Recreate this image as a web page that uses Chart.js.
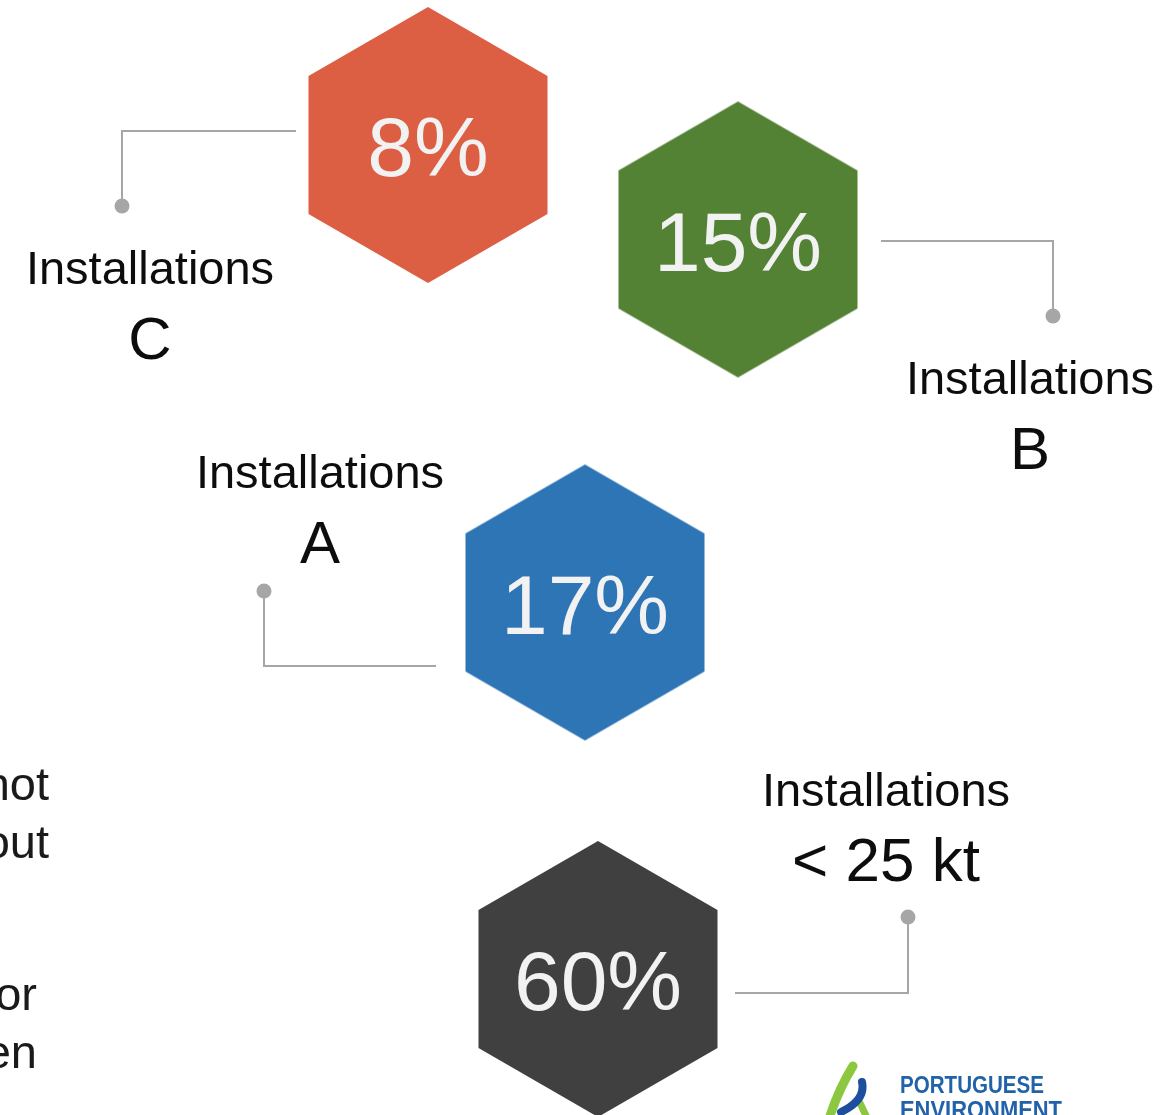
<!DOCTYPE html>
<html>
<head>
<meta charset="utf-8">
<script src="https://cdn.jsdelivr.net/npm/chart.js@4.4.0/dist/chart.umd.min.js"></script>
<style>
  html, body { margin: 0; padding: 0; background: #fff; overflow: hidden; }
  #wrap { width: 1163px; height: 1115px; position: relative; }
</style>
</head>
<body>
<div id="wrap"><canvas id="hexChart" width="1163" height="1115"></canvas></div>
<script>
// --- data ---
const groupTitle = 'Installations';
const groups = ['C', 'B', 'A', '< 25 kt'];
const shares = [8, 15, 17, 60];

// --- styles ---
const hexColors = ['#DD5F43', '#548235', '#2E75B6', '#404040'];
const lineColor = '#A6A6A6';
const groupFont = [60, 60, 60, 62];

// --- layout (page pixels, mapped through the scales) ---
const hexX = [428, 738, 585, 598];
const hexY = [145, 239.5, 602.5, 979];
const lineY = [131, 241, 666, 993];
const lineFromX = [296, 881, 436, 735];
const cornerX = [122, 1053, 264, 908];
const dotY = [206, 316, 591, 917];
const labelX = [150, 1030, 320, 886];
const labelY = [284, 394, 488, 806];

// leftover words from the slide, cut at the left edge
const sideWords = ['not', 'out', 'or', 'en'];
const sideX = [49, 49, 37, 37];
const sideY = [800, 858, 1010, 1068];

const FONT = "'Liberation Sans', Arial, sans-serif";

// hexagon images used as point styles
function makeHex(color) {
  const R = 138, w = 240, h = 278;
  const c = document.createElement('canvas');
  c.width = w; c.height = h;
  const g = c.getContext('2d');
  g.fillStyle = color;
  g.beginPath();
  for (let k = 0; k < 6; k++) {
    const a = (-90 + 60 * k) * Math.PI / 180;
    const px = w / 2 + R * Math.cos(a), py = h / 2 + R * Math.sin(a);
    if (k === 0) g.moveTo(px, py); else g.lineTo(px, py);
  }
  g.closePath();
  g.fill();
  return c;
}
const hexImages = hexColors.map(makeHex);

const overlay = {
  id: 'overlay',
  afterDatasetsDraw(chart) {
    const ctx = chart.ctx;
    const xs = chart.scales.x, ys = chart.scales.y;
    const meta = chart.getDatasetMeta(0);
    ctx.save();

    // percentages inside hexagons
    ctx.fillStyle = '#F2F2F2';
    ctx.font = '84px ' + FONT;
    ctx.textAlign = 'center';
    ctx.textBaseline = 'alphabetic';
    meta.data.forEach((pt, i) => {
      ctx.fillText(shares[i] + '%', pt.x, pt.y + 31);
    });

    // connectors
    ctx.strokeStyle = lineColor;
    ctx.fillStyle = lineColor;
    ctx.lineWidth = 2;
    groups.forEach((g, i) => {
      const y1 = ys.getPixelForValue(lineY[i]);
      ctx.beginPath();
      ctx.moveTo(xs.getPixelForValue(lineFromX[i]), y1);
      ctx.lineTo(xs.getPixelForValue(cornerX[i]), y1);
      ctx.lineTo(xs.getPixelForValue(cornerX[i]), ys.getPixelForValue(dotY[i]));
      ctx.stroke();
      ctx.beginPath();
      ctx.arc(xs.getPixelForValue(cornerX[i]), ys.getPixelForValue(dotY[i]), 7.5, 0, Math.PI * 2);
      ctx.fill();
    });

    // labels
    ctx.fillStyle = '#0d0d0d';
    groups.forEach((g, i) => {
      const x = xs.getPixelForValue(labelX[i]);
      const y = ys.getPixelForValue(labelY[i]);
      ctx.font = '47px ' + FONT;
      ctx.fillText(groupTitle, x, y);
      ctx.font = groupFont[i] + 'px ' + FONT;
      ctx.fillText(g, x, y + 75);
    });

    // cut words on the left
    ctx.font = '47px ' + FONT;
    ctx.textAlign = 'right';
    ctx.fillStyle = '#1a1a1a';
    sideWords.forEach((w, i) => {
      ctx.fillText(w, xs.getPixelForValue(sideX[i]), ys.getPixelForValue(sideY[i]));
    });

    // agency logo (bottom right)
    ctx.lineCap = 'round';
    ctx.strokeStyle = '#8DC63F';
    ctx.lineWidth = 9;
    ctx.beginPath();
    ctx.moveTo(853, 1066);
    ctx.quadraticCurveTo(838, 1090, 828, 1122);
    ctx.stroke();
    ctx.lineWidth = 7;
    ctx.beginPath();
    ctx.moveTo(860, 1103);
    ctx.lineTo(869, 1122);
    ctx.stroke();
    ctx.strokeStyle = '#1D4F9E';
    ctx.lineWidth = 8;
    ctx.beginPath();
    ctx.moveTo(862, 1082);
    ctx.quadraticCurveTo(866, 1100, 841, 1112);
    ctx.stroke();

    ctx.fillStyle = '#2162A9';
    ctx.textAlign = 'left';
    ctx.font = 'bold 24px ' + FONT;
    ctx.fillText('PORTUGUESE', 900, 1093, 144);
    ctx.fillText('ENVIRONMENT', 900, 1118, 162);

    ctx.restore();
  }
};

new Chart(document.getElementById('hexChart'), {
  type: 'scatter',
  data: {
    datasets: [{
      label: groupTitle,
      data: shares.map((s, i) => ({ x: hexX[i], y: hexY[i], share: s })),
      pointStyle: ctx => hexImages[ctx.dataIndex],
      pointRadius: 10,
      pointHoverRadius: 10,
      clip: false
    }]
  },
  options: {
    responsive: false,
    animation: false,
    events: [],
    layout: { padding: 0, autoPadding: false },
    plugins: { legend: { display: false }, tooltip: { enabled: false } },
    scales: {
      x: { type: 'linear', min: 0, max: 1163, display: false },
      y: { type: 'linear', min: 0, max: 1115, reverse: true, display: false }
    }
  },
  plugins: [overlay]
});
</script>
</body>
</html>
